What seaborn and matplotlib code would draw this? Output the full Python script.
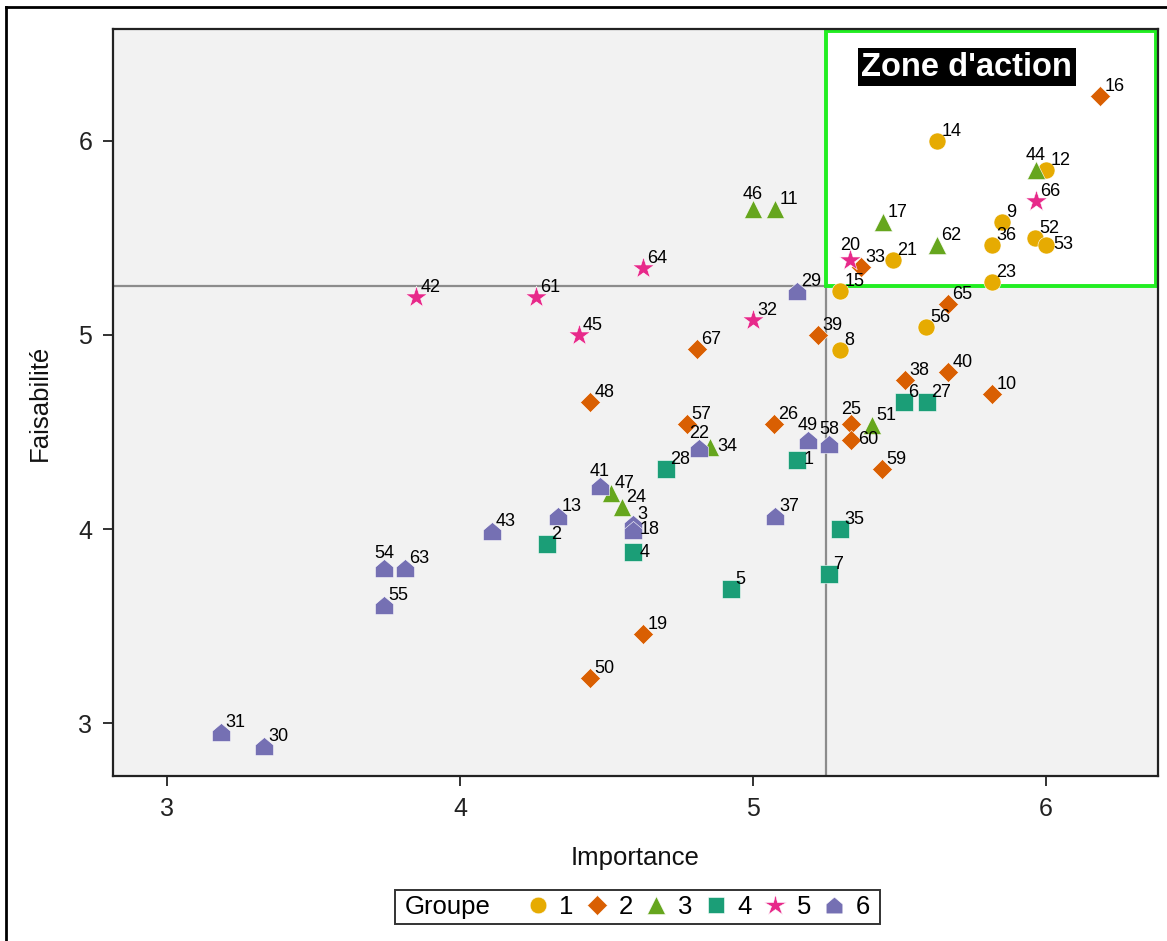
import matplotlib
matplotlib.use("Agg")
import matplotlib.pyplot as plt
import seaborn as sns
import pandas as pd
import numpy as np
from matplotlib.patches import Rectangle
from matplotlib.lines import Line2D
from matplotlib.offsetbox import DrawingArea, HPacker

# ---- data ----
g1_ids = [14, 12, 9, 36, 52, 53, 21, 23, 15, 56, 8]
g1_x = [5.628, 6.0, 5.850, 5.816, 5.962, 6.0, 5.478, 5.816, 5.297, 5.590, 5.297]
g1_y = [6.0, 5.85, 5.582, 5.464, 5.5, 5.464, 5.387, 5.273, 5.227, 5.041, 4.923]

g2_ids = [16, 33, 65, 39, 67, 38, 40, 10, 48, 57, 26, 25, 60, 59, 19, 50]
g2_x = [6.184, 5.369, 5.666, 5.222, 4.809, 5.519, 5.666, 5.816, 4.444, 4.775, 5.072, 5.334, 5.334, 5.440, 4.625, 4.444]
g2_y = [6.232, 5.351, 5.160, 5.0, 4.928, 4.768, 4.809, 4.696, 4.655, 4.541, 4.541, 4.541, 4.459, 4.309, 3.459, 3.232]

g3_ids = [44, 46, 11, 17, 62, 51, 34, 47, 24]
g3_x = [5.966, 5.0, 5.075, 5.444, 5.628, 5.406, 4.853, 4.515, 4.553]
g3_y = [5.85, 5.649, 5.649, 5.582, 5.464, 4.536, 4.423, 4.186, 4.113]

g4_ids = [6, 27, 1, 28, 35, 2, 4, 7, 5]
g4_x = [5.515, 5.594, 5.150, 4.703, 5.297, 4.297, 4.590, 5.259, 4.925]
g4_y = [4.655, 4.655, 4.356, 4.309, 4.0, 3.923, 3.881, 3.768, 3.691]

g5_ids = [66, 20, 64, 42, 61, 45, 32]
g5_x = [5.966, 5.331, 4.625, 3.850, 4.259, 4.406, 5.0]
g5_y = [5.691, 5.387, 5.345, 5.196, 5.196, 5.0, 5.077]

g6_ids = [29, 49, 58, 22, 41, 13, 3, 18, 37, 43, 54, 63, 55, 31, 30]
g6_x = [5.150, 5.188, 5.259, 4.816, 4.478, 4.334, 4.590, 4.590, 5.075, 4.109, 3.741, 3.812, 3.741, 3.184, 3.331]
g6_y = [5.227, 4.459, 4.438, 4.418, 4.222, 4.067, 4.026, 3.995, 4.067, 3.990, 3.799, 3.799, 3.608, 2.954, 2.881]

groups = ["1", "2", "3", "4", "5", "6"]
colors = ["#E6AB02", "#D95F02", "#66A61E", "#1B9E77", "#E7298A", "#7570B3"]
ref_x = 5.25
ref_y = 5.25
zone_label = "Zone d'action"

rows = []
for g, ids, xs, ys in zip(groups, [g1_ids, g2_ids, g3_ids, g4_ids, g5_ids, g6_ids],
                          [g1_x, g2_x, g3_x, g4_x, g5_x, g6_x],
                          [g1_y, g2_y, g3_y, g4_y, g5_y, g6_y]):
    for i, x, y in zip(ids, xs, ys):
        rows.append({"id": i, "Importance": x, "Faisabilité": y, "Groupe": g})
df = pd.DataFrame(rows)

# label placement (layout only)
label_above = {44, 20, 54, 41, 22, 49, 58, 25, 46}
label_right = {34, 60, 18, 1, 4, 53}

house = [(-1, -1), (1, -1), (1, 0.15), (0, 1), (-1, 0.15), (-1, -1)]
markers = {"1": "o", "2": "D", "3": "^", "4": "s", "5": "*", "6": house}
sizes_map = {"1": 150, "2": 105, "3": 170, "4": 165, "5": 270, "6": 170}
leg_ms = {"1": 12, "2": 10, "3": 13, "4": 12, "5": 16, "6": 12}

plt.rcParams['font.family'] = ['Liberation Sans', 'DejaVu Sans']

fig = plt.figure(figsize=(11.67, 9.41), dpi=100)
ax = fig.add_axes([113/1167, 1-776/941, (1158-113)/1167, (776-29)/941])
ax.set_facecolor("#F2F2F2")

xlim = (2.816, 6.382)
ylim = (2.727, 6.577)
ax.set_xlim(*xlim)
ax.set_ylim(*ylim)

# action zone
ax.add_patch(Rectangle((ref_x, ref_y), xlim[1]-ref_x, ylim[1]-ref_y,
                       facecolor="white", edgecolor="none", zorder=0.5))
ax.axvline(ref_x, color="#8C8C8C", lw=1.6, zorder=1)
ax.axhline(ref_y, color="#8C8C8C", lw=1.6, zorder=1)
ax.add_patch(Rectangle((ref_x, ref_y), xlim[1]-ref_x-0.006, ylim[1]-ref_y-0.01,
                       facecolor="none", edgecolor="#22EE22", lw=2.8, zorder=1.5,
                       clip_on=False))

palette = dict(zip(groups, colors))
for g in groups:
    sub = df[df["Groupe"] == g]
    sns.scatterplot(data=sub, x="Importance", y="Faisabilité", color=palette[g],
                    marker=markers[g], s=sizes_map[g], edgecolor="white",
                    linewidth=0.4, ax=ax, zorder=3, legend=False)

for _, r in df.iterrows():
    i = int(r["id"])
    if i in label_above:
        off, ha, va = (0, 4.5), "center", "bottom"
    elif i in label_right:
        off, ha, va = (5, 0), "left", "center"
    else:
        off, ha, va = (3, 0.5), "left", "bottom"
    ax.annotate(str(i), (r["Importance"], r["Faisabilité"]),
                xytext=off, textcoords="offset points", ha=ha, va=va,
                fontsize=13, color="black", zorder=4)

ax.text(5.730, 6.381, zone_label, ha="center", va="center",
        fontsize=23.5, fontweight="bold", color="white", zorder=5,
        bbox=dict(facecolor="black", edgecolor="none", boxstyle="square,pad=0.12"))

ax.set_xticks([3, 4, 5, 6])
ax.set_yticks([3, 4, 5, 6])
ax.tick_params(axis="both", labelsize=18, length=7, width=1.3, colors="#222222",
               labelcolor="#222222", pad=8)
ax.set_xlabel("Importance", fontsize=18.5, labelpad=18, color="#111111")
ax.set_ylabel("Faisabilité", fontsize=18.5, labelpad=19, color="#111111")
for sp in ax.spines.values():
    sp.set_linewidth(1.6)
    sp.set_color("#222222")

# legend
handles = []
for g in groups:
    handles.append(Line2D([], [], linestyle="none", marker=markers[g], color=palette[g],
                          markersize=leg_ms[g], markeredgecolor="white",
                          markeredgewidth=0.4, label=g))
leg = fig.legend(handles=handles, labels=groups, title="Groupe", ncol=6,
                 loc="center", bbox_to_anchor=((395+880)/2/1167, 1-907/941),
                 fontsize=18.5, title_fontsize=18.5, frameon=True, fancybox=False,
                 edgecolor="black", handlelength=0.8, handletextpad=0.45,
                 columnspacing=0.5, borderpad=0.2)
leg.get_frame().set_linewidth(1.4)
c = leg.get_children()[0]
title = c.get_children()[0]
hpack = c.get_children()[1]
spacer = DrawingArea(8, 1)
hpack._children = [title, spacer] + hpack.get_children()
outer = HPacker(pad=0, sep=0, align="center",
                children=[DrawingArea(3.6, 1), hpack, DrawingArea(3.6, 1)])
c._children = [outer]

# outer frame (left and top edges)
fig.add_artist(Line2D([6/1167, 6/1167], [0, 1-7/941], transform=fig.transFigure, color="black", lw=2))
fig.add_artist(Line2D([6/1167, 1], [1-7/941, 1-7/941], transform=fig.transFigure, color="black", lw=2))

fig.savefig("out.png", dpi=100)
